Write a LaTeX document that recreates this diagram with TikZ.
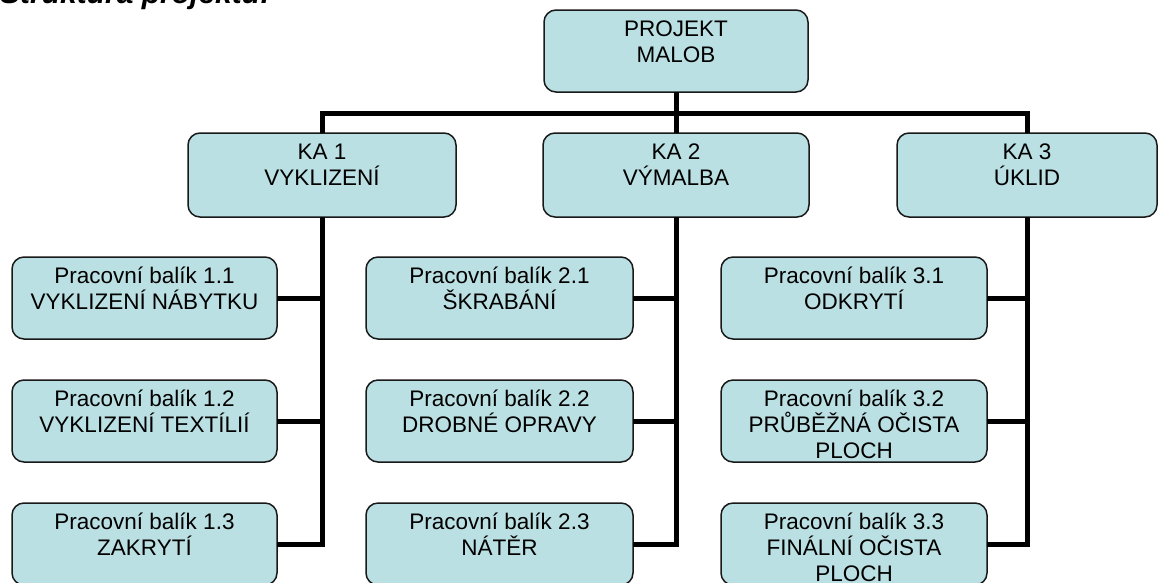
\documentclass[tikz,border=0pt]{standalone}
\usepackage{fontspec}
\setmainfont{Liberation Sans}
\definecolor{boxfill}{RGB}{187,224,227}
\newcommand\bxt[3]{\parbox[c][#2][t]{#1}{\centering\rule{0pt}{26pt}#3}}
\begin{document}
\begin{tikzpicture}[x=1pt,y=-1pt,
  box/.style={draw=black!90, line width=1.5pt, fill=boxfill, rounded corners=12pt, inner sep=0pt, outer sep=0pt,
    font=\fontsize{22.5}{26}\selectfont},
  conn/.style={draw=black, line width=5pt}]
\useasboundingbox (0,0) rectangle (1158,582);
\begin{scope}
\clip (0,0) rectangle (1158,582);
\node[anchor=base west, font=\fontsize{30}{36}\selectfont\bfseries\itshape, inner sep=0pt] (title) at (0,3) {Struktura projektu:};

\node[box] (top) at (676,51) {\bxt{264pt}{82pt}{PROJEKT\\MALOB}};
\node[box] (ka1) at (322,175) {\bxt{268pt}{84pt}{KA 1\\VYKLIZENÍ}};
\node[box] (ka2) at (676,175) {\bxt{266pt}{84pt}{KA 2\\VÝMALBA}};
\node[box] (ka3) at (1027,175) {\bxt{260pt}{84pt}{KA 3\\ÚKLID}};

\node[box] (p11) at (144.5,298) {\bxt{265pt}{82pt}{Pracovní balík 1.1\\VYKLIZENÍ NÁBYTKU}};
\node[box] (p12) at (144.5,421) {\bxt{265pt}{82pt}{Pracovní balík 1.2\\VYKLIZENÍ TEXTÍLIÍ}};
\node[box] (p13) at (144.5,544) {\bxt{265pt}{82pt}{Pracovní balík 1.3\\ZAKRYTÍ}};

\node[box] (p21) at (499.5,298) {\bxt{267pt}{82pt}{Pracovní balík 2.1\\ŠKRABÁNÍ}};
\node[box] (p22) at (499.5,421) {\bxt{267pt}{82pt}{Pracovní balík 2.2\\DROBNÉ OPRAVY}};
\node[box] (p23) at (499.5,544) {\bxt{267pt}{82pt}{Pracovní balík 2.3\\NÁTĚR}};

\node[box] (p31) at (854,298) {\bxt{266pt}{82pt}{Pracovní balík 3.1\\ODKRYTÍ}};
\node[box] (p32) at (854,421) {\bxt{266pt}{82pt}{Pracovní balík 3.2\\PRŮBĚŽNÁ OČISTA\\PLOCH}};
\node[box] (p33) at (854,544) {\bxt{266pt}{82pt}{Pracovní balík 3.3\\FINÁLNÍ OČISTA\\PLOCH}};

\coordinate (bar) at (676,113);
\draw[conn] (top.south) -- (top.south |- bar);
\draw[conn] (ka1.north) -- (ka1.north |- bar) -- (ka3.north |- bar) -- (ka3.north);
\draw[conn] (ka2.north) -- (ka2.north |- bar);

\draw[conn] (ka1.south) |- (p13.east);
\draw[conn] (p11.east) -- (p11.east -| ka1.south);
\draw[conn] (p12.east) -- (p12.east -| ka1.south);

\draw[conn] (ka2.south) |- (p23.east);
\draw[conn] (p21.east) -- (p21.east -| ka2.south);
\draw[conn] (p22.east) -- (p22.east -| ka2.south);

\draw[conn] (ka3.south) |- (p33.east);
\draw[conn] (p31.east) -- (p31.east -| ka3.south);
\draw[conn] (p32.east) -- (p32.east -| ka3.south);
\end{scope}
\end{tikzpicture}
\end{document}
